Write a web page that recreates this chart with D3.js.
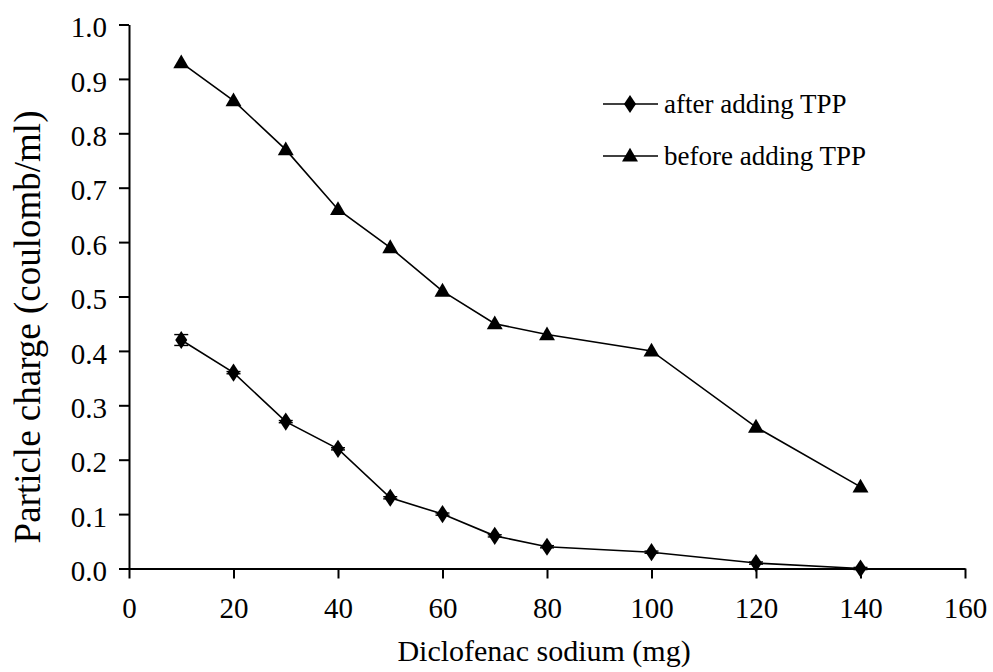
<!DOCTYPE html>
<html>
<head>
<meta charset="utf-8">
<script src="https://cdn.jsdelivr.net/npm/d3@7/dist/d3.min.js"></script>
</head>
<body style="margin:0;background:#fff">
<svg id="chart" width="993" height="672" style="display:block"></svg>
<script>
// Diclofenac sodium dose (mg)
const doses = [10, 20, 30, 40, 50, 60, 70, 80, 100, 120, 140];
// Particle charge (coulomb/ml)
const afterTPP  = [0.42, 0.36, 0.27, 0.22, 0.13, 0.10, 0.06, 0.04, 0.03, 0.01, 0.00];
const afterErr  = [0.01, 0.002, 0.002, 0.002, 0.002, 0.002, 0.002, 0.002, 0.002, 0.002, 0.002];
const beforeTPP = [0.93, 0.86, 0.77, 0.66, 0.59, 0.51, 0.45, 0.43, 0.40, 0.26, 0.15];
const xTicks = [0, 20, 40, 60, 80, 100, 120, 140, 160];
const yTicks = [0.0, 0.1, 0.2, 0.3, 0.4, 0.5, 0.6, 0.7, 0.8, 0.9, 1.0];
const seriesNames = ["after adding TPP", "before adding TPP"];

const FONT = "Liberation Serif";
const TICK_FS = 29;
const svg = d3.select("#chart");
svg.append("rect").attr("width", 993).attr("height", 672).attr("fill", "#fff");

const x = d3.scaleLinear().domain([0, 160]).range([129, 965]);
const y = d3.scaleLinear().domain([0, 1]).range([568.5, 24.5]);

// Axes
const xAxis = d3.axisBottom(x).tickValues(xTicks).tickSize(10).tickSizeOuter(0).tickPadding(19)
  .tickFormat(d3.format("d"));
const yAxis = d3.axisLeft(y).tickValues(yTicks).tickSize(10).tickSizeOuter(0).tickPadding(12)
  .tickFormat(d3.format(".1f"));

const gx = svg.append("g").attr("transform", `translate(0,${y(0)})`).call(xAxis)
  .attr("font-family", FONT).attr("font-size", TICK_FS);
const gy = svg.append("g").attr("transform", `translate(${x(0)},0)`).call(yAxis)
  .attr("font-family", FONT).attr("font-size", TICK_FS);
[gx, gy].forEach(g => {
  g.select(".domain").attr("stroke", "#000").attr("stroke-width", 2);
  g.selectAll(".tick line").attr("stroke", "#000").attr("stroke-width", 2);
  g.selectAll(".tick text").attr("fill", "#000")
    .attr("font-family", FONT).attr("font-size", TICK_FS);
});
gy.selectAll(".tick text").attr("dy", "0.42em");

// Axis titles
svg.append("text").attr("x", 544).attr("y", 661)
  .attr("text-anchor", "middle").attr("font-family", FONT).attr("font-size", 30).attr("fill", "#000")
  .text("Diclofenac sodium (mg)");
svg.append("text").attr("transform", "translate(40,327) rotate(-90)")
  .attr("text-anchor", "middle").attr("font-family", FONT).attr("font-size", 37).attr("fill", "#000")
  .text("Particle charge (coulomb/ml)");

const line = d3.line().x(d => x(d[0])).y(d => y(d[1]));
const afterPts = doses.map((d, i) => [d, afterTPP[i], afterErr[i]]);
const beforePts = doses.map((d, i) => [d, beforeTPP[i]]);

const diamond = d3.symbol().type(d3.symbolDiamond).size(95);
const triangle = d3.symbol().type(d3.symbolTriangle).size(110);

// Lines
svg.append("path").datum(afterPts).attr("d", line)
  .attr("fill", "none").attr("stroke", "#000").attr("stroke-width", 1.6);
svg.append("path").datum(beforePts).attr("d", line)
  .attr("fill", "none").attr("stroke", "#000").attr("stroke-width", 1.6);

// Error bars on the "after" series
const eb = svg.append("g").attr("stroke", "#000").attr("stroke-width", 1.4);
afterPts.forEach(p => {
  const cx = x(p[0]);
  eb.append("line").attr("x1", cx).attr("x2", cx).attr("y1", y(p[1] - p[2])).attr("y2", y(p[1] + p[2]));
  [p[1] - p[2], p[1] + p[2]].forEach(v => {
    eb.append("line").attr("x1", cx - 7).attr("x2", cx + 7).attr("y1", y(v)).attr("y2", y(v));
  });
});

// Markers
svg.append("g").selectAll("path").data(afterPts).join("path")
  .attr("d", diamond).attr("transform", d => `translate(${x(d[0])},${y(d[1])}) scale(1.15,1)`)
  .attr("fill", "#000");
svg.append("g").selectAll("path").data(beforePts).join("path")
  .attr("d", triangle).attr("transform", d => `translate(${x(d[0])},${y(d[1]) + 1})`)
  .attr("fill", "#000");

// Legend
const legend = svg.append("g");
const legendY = [104, 156];
const legendSyms = [diamond, triangle];
seriesNames.forEach((name, i) => {
  const ly = legendY[i];
  legend.append("line").attr("x1", 603).attr("x2", 658).attr("y1", ly).attr("y2", ly)
    .attr("stroke", "#000").attr("stroke-width", 1.6);
  legend.append("path").attr("d", legendSyms[i])
    .attr("transform", i === 0 ? `translate(630,${ly}) scale(1.15,1)` : `translate(630,${ly + 1})`)
    .attr("fill", "#000");
  legend.append("text").attr("x", 664).attr("y", ly + 9)
    .attr("font-family", FONT).attr("font-size", 27).attr("fill", "#000").text(name);
});
</script>
</body>
</html>
